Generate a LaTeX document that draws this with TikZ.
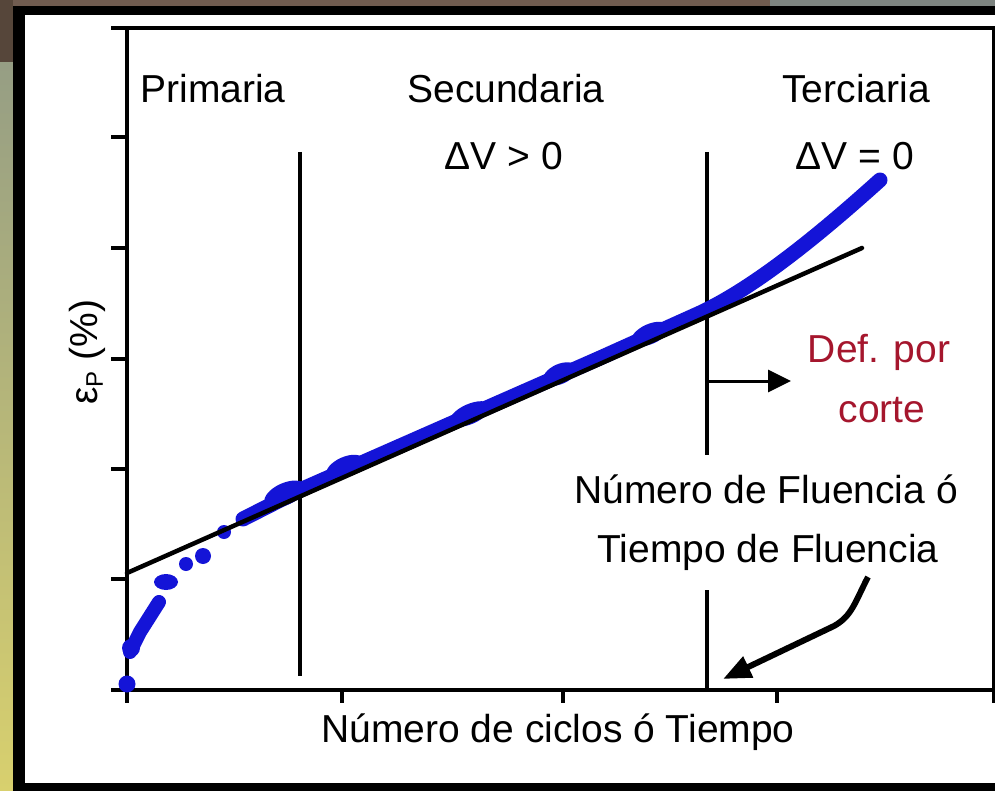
\documentclass[tikz,border=0pt]{standalone}
\usepackage{fontspec}
\setmainfont{Liberation Sans}
\usetikzlibrary{arrows.meta}
\definecolor{bgbrown}{RGB}{86,70,58}
\definecolor{bgbrownb}{RGB}{112,92,80}
\definecolor{bggray}{RGB}{125,132,128}
\definecolor{bggreen}{RGB}{150,158,132}
\definecolor{bgyellow}{RGB}{216,208,110}
\definecolor{datablue}{RGB}{20,20,215}
\definecolor{defred}{RGB}{165,22,45}
\begin{document}
\begin{tikzpicture}[x=1pt,y=-1pt,
  lbl/.style={font=\fontsize{39}{44}\selectfont, inner sep=0pt, anchor=base},
  redlbl/.style={lbl, text=defred},
  frameline/.style={line width=3.2pt},
  tickline/.style={line width=3.2pt},
  divider/.style={line width=3.2pt},
  fitline/.style={line width=4.5pt, line cap=round},
  bluedot/.style={fill=datablue},
  blueband/.style={draw=datablue, line width=15pt, line cap=round, line join=round},
  pointer/.style={line width=3pt, -{Triangle[length=23pt,width=22pt]}},
  bigpointer/.style={line width=6pt, -{Triangle[length=28pt,width=22pt]}}]
% canvas and background
\useasboundingbox (0,0) rectangle (995,791);
\fill[white] (0,0) rectangle (995,791);
\fill[bgbrownb] (0,0) rectangle (770,6);
\fill[bggray] (770,0) rectangle (995,6);
\fill[bgbrown] (0,0) rectangle (13,63);
\shade[top color=bggreen, bottom color=bgyellow] (0,63) rectangle (13,791);
\fill[black] (13,6) rectangle (995,791);
\fill[white] (25,15) rectangle (995,783);
% frame and axes
\coordinate (tl) at (111,28);
\coordinate (tr) at (994,28);
\coordinate (ltop) at (127,28);
\coordinate (lbot) at (127,703);
\coordinate (bl) at (111,690);
\coordinate (br) at (994,690);
\coordinate (rbot) at (994,703);
\draw[frameline] (tl) -- (tr) -- (rbot);
\draw[frameline] (ltop) -- (lbot);
\draw[frameline] (bl) -- (br);
\foreach \yy [count=\i] in {137,248,359,469,579} {
  \coordinate (ya\i) at (111,\yy);
  \coordinate (yb\i) at (127,\yy);
  \draw[tickline] (ya\i) -- (yb\i);
}
\foreach \xx [count=\i] in {342,563,777} {
  \coordinate (xa\i) at (\xx,690);
  \coordinate (xb\i) at (\xx,703);
  \draw[tickline] (xa\i) -- (xb\i);
}
% stage dividers
\coordinate (d1a) at (300,152);
\coordinate (d1b) at (300,676);
\coordinate (d2a) at (707,152);
\coordinate (d2b) at (707,455);
\coordinate (d3a) at (707,590);
\coordinate (d3b) at (707,690);
\draw[divider] (d1a) -- (d1b);
\draw[divider] (d2a) -- (d2b);
\draw[divider] (d3a) -- (d3b);
% data points
\fill[bluedot] (127,684) circle (8.5);
\draw[blueband, line width=14pt] (130,652) -- (140,632) -- (159,602);
\fill[bluedot] (131,648) circle (9);
\fill[bluedot] (166,582) ellipse (12 and 8);
\fill[bluedot] (186,564) circle (7);
\fill[bluedot] (203,556) circle (8);
\fill[bluedot] (224,532) circle (7);
\draw[blueband] (243,519) -- (300,490) -- (400,446) -- (500,402) -- (600,358) -- (700,313)
  .. controls (760,285) and (830,225) .. (880,180);
\fill[bluedot, rotate around={24:(285,494)}] (285,494) ellipse (22 and 11);
\fill[bluedot, rotate around={24:(345,467)}] (345,467) ellipse (20 and 10);
\fill[bluedot, rotate around={24:(470,414)}] (470,414) ellipse (22 and 10);
\fill[bluedot, rotate around={24:(560,374)}] (560,374) ellipse (18 and 10);
\fill[bluedot, rotate around={24:(650,334)}] (650,334) ellipse (20 and 10);
% fitted straight line
\coordinate (f1) at (127,573);
\coordinate (f2) at (862,248);
\draw[fitline] (f1) -- (f2);
% arrows
\coordinate (p1) at (707,381);
\coordinate (p2) at (791,381);
\draw[pointer] (p1) -- (p2);
\coordinate (c1) at (868,577);
\coordinate (c2) at (834,626);
\coordinate (c3) at (723,679);
\draw[bigpointer] (c1) .. controls (855,602) and (852,616) .. (c2) -- (c3);
% labels
\node[lbl] (prim) at (213,103) {Primaria};
\node[lbl] (sec) at (506,103) {Secundaria};
\node[lbl] (secdv) at (504,170) {ΔV > 0};
\node[lbl] (ter) at (856,103) {Terciaria};
\node[lbl] (terdv) at (855,170) {ΔV = 0};
\node[redlbl] (def1) at (879,362) {Def. por};
\node[redlbl] (def2) at (882,422) {corte};
\node[lbl] (nf1) at (766,503) {Número de Fluencia ó};
\node[lbl] (nf2) at (768,562) {Tiempo de Fluencia};
\node[lbl] (xlab) at (558,742) {Número de ciclos ó Tiempo};
\node[lbl, rotate=90] (ylab) at (97,352) {ε\raisebox{-0.15em}{\fontsize{24}{26}\selectfont P} (\%)};
\end{tikzpicture}
\end{document}
